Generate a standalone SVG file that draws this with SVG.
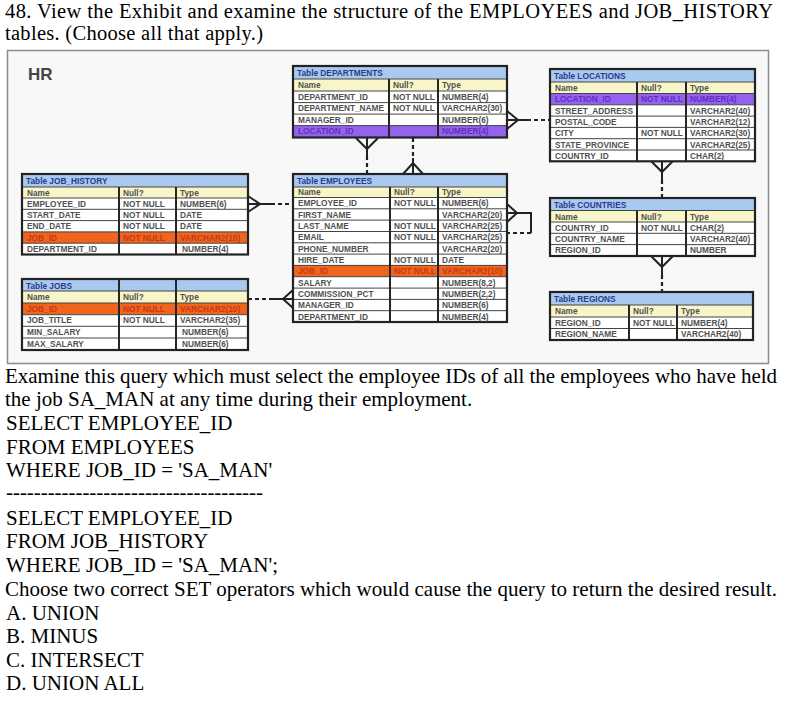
<svg xmlns="http://www.w3.org/2000/svg" width="800" height="705" viewBox="0 0 800 705">
<style>
.q{font-family:"Liberation Serif","Times New Roman",serif;font-size:21px;fill:#000}
.q2{font-family:"Liberation Serif","Times New Roman",serif;font-size:20.5px;fill:#000}
.c{font-family:"Liberation Sans",Arial,sans-serif;font-size:8.3px;font-weight:bold;fill:#505050}
.tt{fill:#2b3a8c}
.tp{fill:#5f2fc0}
.to{fill:#c23a16}
.ti{fill:#a9c9ee}
.hd{fill:#f8f6c9}
.rw{fill:#ffffff}
.pu{fill:#9462ef}
.or{fill:#ef651e}
.gl{stroke:#444;stroke-width:1;fill:none}
.cl{stroke:#262626;stroke-width:2;fill:none}
.bx{stroke:#222;stroke-width:2.2;fill:none}
.s{fill:none;stroke:#222;stroke-width:2}
.d{fill:none;stroke:#222;stroke-width:2.2;stroke-dasharray:4 3}
</style>
<rect width="800" height="705" fill="#ffffff"/>
<g id="question">
<text class="q2" x="5" y="18" textLength="768" lengthAdjust="spacing">48. View the Exhibit and examine the structure of the EMPLOYEES and JOB_HISTORY</text>
<text class="q2" x="5" y="40" textLength="258" lengthAdjust="spacing">tables. (Choose all that apply.)</text>
</g>
<rect id="exhibit" x="7.5" y="50.5" width="761" height="313" fill="#f8f8f8" stroke="#8c8c8c" stroke-width="1.5"/>
<text x="28" y="80" font-family="Liberation Sans, Arial, sans-serif" font-size="17" font-weight="bold" fill="#444">HR</text>

<g id="connectors">
<path class="s" d="M248,196 L260,204 L248,212 M248,204 L271,204"/>
<path class="d" d="M271,204 L293,204"/>
<path class="d" d="M248,299 L270,299"/>
<path class="s" d="M270,299 L293,299 M293,290 L283,299 L293,308"/>
<path class="s" d="M507,204 L517,213 L507,222 M507,213 L531,213 L531,233"/>
<path class="d" d="M531,233 L507,233"/>
<path class="s" d="M507,111 L518,120 L507,129 M507,120 L527,120"/>
<path class="d" d="M527,120 L550,120"/>
<path class="s" d="M356,138 L367,149 L378,138 M367,138 L367,156"/>
<path class="d" d="M367,156 L367,174"/>
<path class="d" d="M413,138 L413,158"/>
<path class="s" d="M413,158 L413,174 M403,174 L413,163 L423,174"/>
<path class="s" d="M651,161 L662,172 L673,161 M662,161 L662,180"/>
<path class="d" d="M662,180 L662,198"/>
<path class="s" d="M651,256 L662,267 L673,256 M662,256 L662,275"/>
<path class="d" d="M662,275 L662,292"/>
</g>

<g id="t-departments">
<rect class="ti" x="293" y="66" width="214" height="13"/>
<rect class="hd" x="293" y="79" width="214" height="12"/>
<rect class="rw" x="293" y="91" width="214" height="34.6"/>
<rect class="pu" x="293" y="125.6" width="214" height="11.9"/>
<path class="gl" d="M293,79H507M293,91H507M293,102.6H507M293,114.1H507M293,125.6H507"/>
<path class="cl" d="M389,79V137.5M438,79V137.5"/>
<rect class="bx" x="293" y="66" width="214" height="71.5"/>
<text class="c tt" x="297" y="76">Table DEPARTMENTS</text>
<text class="c" x="298" y="88">Name</text><text class="c" x="393" y="88">Null?</text><text class="c" x="442" y="88">Type</text>
<text class="c" x="298" y="99.8">DEPARTMENT_ID</text><text class="c" x="393" y="99.8">NOT NULL</text><text class="c" x="442" y="99.8">NUMBER(4)</text>
<text class="c" x="298" y="111.4">DEPARTMENT_NAME</text><text class="c" x="393" y="111.4">NOT NULL</text><text class="c" x="442" y="111.4">VARCHAR2(30)</text>
<text class="c" x="298" y="122.9">MANAGER_ID</text><text class="c" x="442" y="122.9">NUMBER(6)</text>
<text class="c tp" x="298" y="134.4">LOCATION_ID</text><text class="c tp" x="442" y="134.4">NUMBER(4)</text>
</g>

<g id="t-locations">
<rect class="ti" x="550" y="69" width="205" height="13"/>
<rect class="hd" x="550" y="82" width="205" height="11.5"/>
<rect class="pu" x="550" y="93.5" width="205" height="11.3"/>
<rect class="rw" x="550" y="104.8" width="205" height="56.5"/>
<path class="gl" d="M550,82H755M550,93.5H755M550,104.8H755M550,116.1H755M550,127.4H755M550,138.7H755M550,150H755"/>
<path class="cl" d="M637,82V161.3M686,82V161.3"/>
<rect class="bx" x="550" y="69" width="205" height="92.3"/>
<text class="c tt" x="554" y="79">Table LOCATIONS</text>
<text class="c" x="555" y="91">Name</text><text class="c" x="641" y="91">Null?</text><text class="c" x="690" y="91">Type</text>
<text class="c tp" x="555" y="102.3">LOCATION_ID</text><text class="c tp" x="641" y="102.3">NOT NULL</text><text class="c tp" x="690" y="102.3">NUMBER(4)</text>
<text class="c" x="555" y="113.6">STREET_ADDRESS</text><text class="c" x="690" y="113.6">VARCHAR2(40)</text>
<text class="c" x="555" y="124.9">POSTAL_CODE</text><text class="c" x="690" y="124.9">VARCHAR2(12)</text>
<text class="c" x="555" y="136.2">CITY</text><text class="c" x="641" y="136.2">NOT NULL</text><text class="c" x="690" y="136.2">VARCHAR2(30)</text>
<text class="c" x="555" y="147.5">STATE_PROVINCE</text><text class="c" x="690" y="147.5">VARCHAR2(25)</text>
<text class="c" x="555" y="158.8">COUNTRY_ID</text><text class="c" x="690" y="158.8">CHAR(2)</text>
</g>

<g id="t-job-history">
<rect class="ti" x="22" y="174" width="226" height="13"/>
<rect class="hd" x="22" y="187" width="226" height="11"/>
<rect class="rw" x="22" y="198" width="226" height="56.5"/>
<rect class="or" x="22" y="231.9" width="226" height="11.3"/>
<path class="gl" d="M22,187H248M22,198H248M22,209.3H248M22,220.6H248M22,231.9H248M22,243.2H248"/>
<path class="cl" d="M119,187V254.5M176,187V254.5"/>
<rect class="bx" x="22" y="174" width="226" height="80.5"/>
<text class="c tt" x="26" y="184">Table JOB_HISTORY</text>
<text class="c" x="27" y="195.5">Name</text><text class="c" x="123" y="195.5">Null?</text><text class="c" x="180" y="195.5">Type</text>
<text class="c" x="27" y="206.8">EMPLOYEE_ID</text><text class="c" x="123" y="206.8">NOT NULL</text><text class="c" x="180" y="206.8">NUMBER(6)</text>
<text class="c" x="27" y="218.1">START_DATE</text><text class="c" x="123" y="218.1">NOT NULL</text><text class="c" x="180" y="218.1">DATE</text>
<text class="c" x="27" y="229.4">END_DATE</text><text class="c" x="123" y="229.4">NOT NULL</text><text class="c" x="180" y="229.4">DATE</text>
<text class="c to" x="27" y="240.7">JOB_ID</text><text class="c to" x="123" y="240.7">NOT NULL</text><text class="c to" x="180" y="240.7">VARCHAR2(10)</text>
<text class="c" x="27" y="252">DEPARTMENT_ID</text><text class="c" x="182" y="252">NUMBER(4)</text>
</g>

<g id="t-employees">
<rect class="ti" x="293" y="174" width="214" height="13"/>
<rect class="hd" x="293" y="187" width="214" height="10.5"/>
<rect class="rw" x="293" y="197.5" width="214" height="124.5"/>
<rect class="or" x="293" y="265.4" width="214" height="11.3"/>
<path class="gl" d="M293,187H507M293,197.5H507M293,208.8H507M293,220.1H507M293,231.5H507M293,242.8H507M293,254.1H507M293,265.4H507M293,276.7H507M293,288.1H507M293,299.4H507M293,310.7H507"/>
<path class="cl" d="M390,187V322M438,187V322"/>
<rect class="bx" x="293" y="174" width="214" height="148"/>
<text class="c tt" x="297" y="184">Table EMPLOYEES</text>
<text class="c" x="298" y="195.2">Name</text><text class="c" x="394" y="195.2">Null?</text><text class="c" x="442" y="195.2">Type</text>
<text class="c" x="298" y="206.3">EMPLOYEE_ID</text><text class="c" x="394" y="206.3">NOT NULL</text><text class="c" x="442" y="206.3">NUMBER(6)</text>
<text class="c" x="298" y="217.6">FIRST_NAME</text><text class="c" x="442" y="217.6">VARCHAR2(20)</text>
<text class="c" x="298" y="228.9">LAST_NAME</text><text class="c" x="394" y="228.9">NOT NULL</text><text class="c" x="442" y="228.9">VARCHAR2(25)</text>
<text class="c" x="298" y="240.3">EMAIL</text><text class="c" x="394" y="240.3">NOT NULL</text><text class="c" x="442" y="240.3">VARCHAR2(25)</text>
<text class="c" x="298" y="251.6">PHONE_NUMBER</text><text class="c" x="442" y="251.6">VARCHAR2(20)</text>
<text class="c" x="298" y="262.9">HIRE_DATE</text><text class="c" x="394" y="262.9">NOT NULL</text><text class="c" x="442" y="262.9">DATE</text>
<text class="c to" x="298" y="274.2">JOB_ID</text><text class="c to" x="394" y="274.2">NOT NULL</text><text class="c to" x="442" y="274.2">VARCHAR2(10)</text>
<text class="c" x="298" y="285.5">SALARY</text><text class="c" x="442" y="285.5">NUMBER(8,2)</text>
<text class="c" x="298" y="296.9">COMMISSION_PCT</text><text class="c" x="442" y="296.9">NUMBER(2,2)</text>
<text class="c" x="298" y="308.2">MANAGER_ID</text><text class="c" x="442" y="308.2">NUMBER(6)</text>
<text class="c" x="298" y="319.5">DEPARTMENT_ID</text><text class="c" x="442" y="319.5">NUMBER(4)</text>
</g>

<g id="t-countries">
<rect class="ti" x="550" y="198" width="205" height="12.5"/>
<rect class="hd" x="550" y="210.5" width="205" height="11.5"/>
<rect class="rw" x="550" y="222" width="205" height="34"/>
<path class="gl" d="M550,210.5H755M550,222H755M550,233.3H755M550,244.6H755"/>
<path class="cl" d="M637,210.5V256M686,210.5V256"/>
<rect class="bx" x="550" y="198" width="205" height="58"/>
<text class="c tt" x="554" y="208">Table COUNTRIES</text>
<text class="c" x="555" y="219.5">Name</text><text class="c" x="641" y="219.5">Null?</text><text class="c" x="690" y="219.5">Type</text>
<text class="c" x="555" y="230.8">COUNTRY_ID</text><text class="c" x="641" y="230.8">NOT NULL</text><text class="c" x="690" y="230.8">CHAR(2)</text>
<text class="c" x="555" y="242.1">COUNTRY_NAME</text><text class="c" x="690" y="242.1">VARCHAR2(40)</text>
<text class="c" x="555" y="253.4">REGION_ID</text><text class="c" x="690" y="253.4">NUMBER</text>
</g>

<g id="t-regions">
<rect class="ti" x="550" y="292" width="203" height="13"/>
<rect class="hd" x="550" y="305" width="203" height="12"/>
<rect class="rw" x="550" y="317" width="203" height="23"/>
<path class="gl" d="M550,305H753M550,317H753M550,328.5H753"/>
<path class="cl" d="M629,305V340M677,305V340"/>
<rect class="bx" x="550" y="292" width="203" height="48"/>
<text class="c tt" x="554" y="302">Table REGIONS</text>
<text class="c" x="555" y="314">Name</text><text class="c" x="633" y="314">Null?</text><text class="c" x="681" y="314">Type</text>
<text class="c" x="555" y="325.8">REGION_ID</text><text class="c" x="633" y="325.8">NOT NULL</text><text class="c" x="681" y="325.8">NUMBER(4)</text>
<text class="c" x="555" y="337.3">REGION_NAME</text><text class="c" x="681" y="337.3">VARCHAR2(40)</text>
</g>

<g id="t-jobs">
<rect class="ti" x="22" y="279" width="226" height="12"/>
<rect class="hd" x="22" y="291" width="226" height="12"/>
<rect class="or" x="22" y="303" width="226" height="11.7"/>
<rect class="rw" x="22" y="314.7" width="226" height="35.3"/>
<path class="gl" d="M22,291H248M22,303H248M22,314.7H248M22,326.3H248M22,338H248"/>
<path class="cl" d="M119,279V350M176,279V350"/>
<rect class="bx" x="22" y="279" width="226" height="71"/>
<text class="c tt" x="26" y="288.5">Table JOBS</text>
<text class="c" x="27" y="300">Name</text><text class="c" x="123" y="300">Null?</text><text class="c" x="180" y="300">Type</text>
<text class="c to" x="27" y="311.8">JOB_ID</text><text class="c to" x="123" y="311.8">NOT NULL</text><text class="c to" x="180" y="311.8">VARCHAR2(10)</text>
<text class="c" x="27" y="323.4">JOB_TITLE</text><text class="c" x="123" y="323.4">NOT NULL</text><text class="c" x="180" y="323.4">VARCHAR2(35)</text>
<text class="c" x="27" y="335.1">MIN_SALARY</text><text class="c" x="182" y="335.1">NUMBER(6)</text>
<text class="c" x="27" y="346.8">MAX_SALARY</text><text class="c" x="182" y="346.8">NUMBER(6)</text>
</g>

<g id="query">
<text class="q" x="5" y="383" textLength="772" lengthAdjust="spacing">Examine this query which must select the employee IDs of all the employees who have held</text>
<text class="q" x="5" y="406">the job SA_MAN at any time during their employment.</text>
<text class="q" x="6" y="430">SELECT EMPLOYEE_ID</text>
<text class="q" x="6" y="454">FROM EMPLOYEES</text>
<text class="q" x="6" y="477">WHERE JOB_ID = 'SA_MAN'</text>
<text class="q" x="6" y="499" textLength="257" lengthAdjust="spacing">-------------------------------------</text>
<text class="q" x="6" y="525">SELECT EMPLOYEE_ID</text>
<text class="q" x="6" y="548">FROM JOB_HISTORY</text>
<text class="q" x="6" y="572">WHERE JOB_ID = 'SA_MAN';</text>
<text class="q" x="5" y="596" textLength="772" lengthAdjust="spacing">Choose two correct SET operators which would cause the query to return the desired result.</text>
<text class="q" x="6" y="620">A. UNION</text>
<text class="q" x="6" y="643">B. MINUS</text>
<text class="q" x="6" y="667">C. INTERSECT</text>
<text class="q" x="6" y="690">D. UNION ALL</text>
</g>
</svg>
